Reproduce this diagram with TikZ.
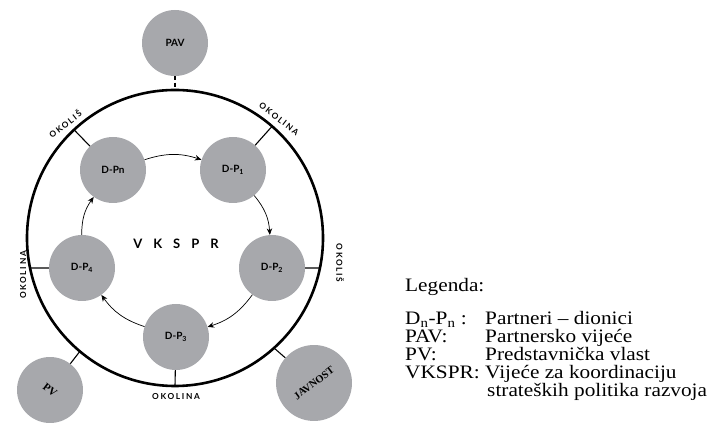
\documentclass[tikz,border=0pt]{standalone}
\usepackage{fontspec}
\setmainfont{Liberation Serif}
\newfontfamily\labelfont{Lato}
\newfontfamily\trackfont[LetterSpace=20]{Lato}
\usetikzlibrary{arrows.meta, calc}
\definecolor{discgray}{RGB}{167,168,172}

\begin{document}
\begin{tikzpicture}[
    x=1pt, y=1pt,
    partner/.style={circle, fill=discgray, minimum size=66pt, inner sep=0pt,
                    font=\labelfont\bfseries\fontsize{10}{12}\selectfont},
    outer/.style={circle, fill=discgray, inner sep=0pt,
                  font=\bfseries\fontsize{11}{13}\selectfont},
    ring/.style={line width=2.6pt},
    tick/.style={line width=1.1pt},
    flow/.style={-{Stealth[length=6.5pt,width=5.5pt]}, line width=0.7pt, bend left=18},
    envlabel/.style={inner sep=0pt, font=\trackfont\bfseries\fontsize{8.3}{10}\selectfont},
    legend/.style={anchor=base west, inner sep=0pt, xscale=1.12,
                   font=\fontsize{19}{22}\selectfont}
]
\useasboundingbox (0,0) rectangle (710,433);
% ring of the council
\coordinate (c) at (175,195);
\draw[ring] (c) circle[radius=148];
\node[inner sep=0pt, font=\labelfont\bfseries\fontsize{13}{15}\selectfont] (vkspr) at (176,189) {\spaceskip=11pt V K S P R};
% partners
\node[partner] (pn) at (113,263) {D-Pn};
\node[partner] (p1) at (233,263) {D-P\textsubscript{1}};
\node[partner] (p2) at (272,165) {D-P\textsubscript{2}};
\node[partner] (p3) at (176,96) {D-P\textsubscript{3}};
\node[partner] (p4) at (82,165) {D-P\textsubscript{4}};
% outside bodies
\node[outer, minimum size=66pt, font=\labelfont\bfseries\fontsize{10}{12}\selectfont] (pav) at (175,390) {PAV};
\node[outer, minimum size=66pt, rotate=-37] (pv) at (50,43) {PV};
\node[outer, minimum size=76pt, rotate=37, font=\bfseries\fontsize{10.5}{12}\selectfont] (jav) at (314,50) {JAVNOST};
% flow between partners
\draw[flow] (pn) to (p1);
\draw[flow] (p1) to (p2);
\draw[flow] (p2) to (p3);
\draw[flow] (p3) to (p4);
\draw[flow] (p4) to (pn);
% links to the ring
\foreach \n/\a in {pn/133, p1/49, p2/-11.7, p3/-90, p4/191.7, pv/230, jav/-48}
    \draw[tick] (\n) -- ($(c)+(\a:148)$);
\draw[tick, dash pattern=on 4pt off 2.5pt] (pav) -- ($(c)+(90:148)$);
% surroundings
\node[envlabel, rotate=38] (okolis1) at (65,309) {OKOLIŠ};
\node[envlabel, rotate=-38] (okolina1) at (279,314) {OKOLINA};
\node[envlabel, rotate=-90] (okolis2) at (340,170) {OKOLIŠ};
\node[envlabel, rotate=90] (okolina2) at (23,158) {OKOLINA};
\node[envlabel] (okolina3) at (176,36) {OKOLINA};
% legend
\node[legend] (legtitle) at (405,141) {Legenda:};
\node[legend] (k1) at (405,108) {D\textsubscript{n}-P\textsubscript{n} :};
\node[legend] (d1) at (485,108) {Partneri – dionici};
\node[legend] (k2) at (405,90) {PAV:};
\node[legend] (d2) at (485,90) {Partnersko vijeće};
\node[legend] (k3) at (405,72) {PV:};
\node[legend] (d3) at (485,72) {Predstavnička vlast};
\node[legend] (k4) at (405,54) {VKSPR:};
\node[legend] (d4) at (485,54) {Vijeće za koordinaciju};
\node[legend] (d5) at (487,36) {strateških politika razvoja};
\end{tikzpicture}
\end{document}
